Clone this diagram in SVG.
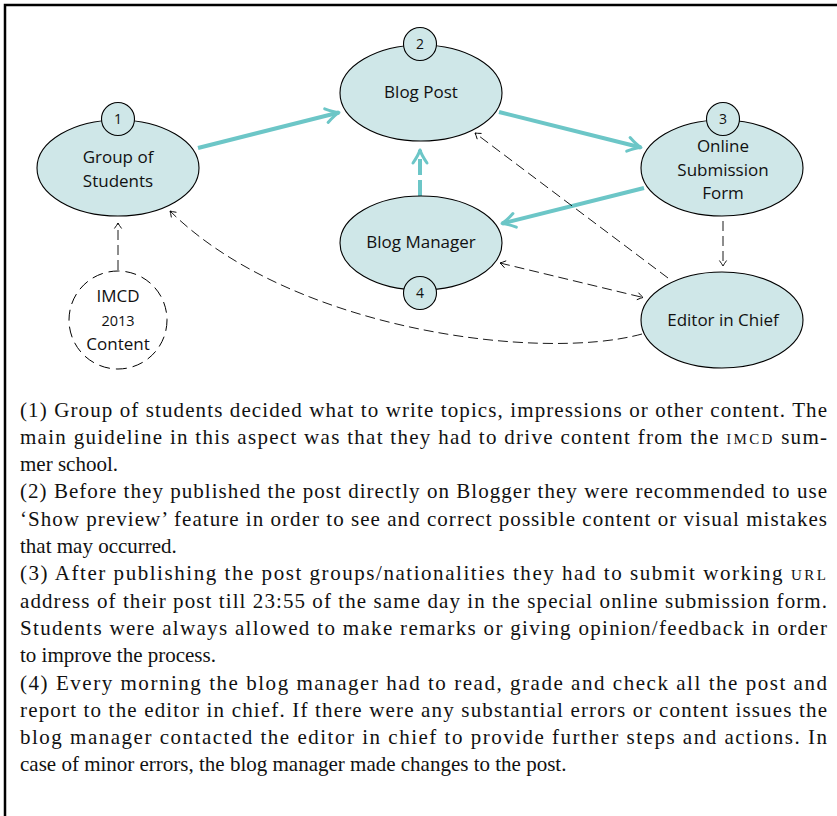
<svg xmlns="http://www.w3.org/2000/svg" width="837" height="816" viewBox="0 0 837 816">
<defs>
<style>
.node{fill:#cfe7e8;stroke:#000;stroke-width:1.1}
.badge{fill:#cfe7e8;stroke:#000;stroke-width:1.1}
.lbl{font-family:"Open Sans","Noto Sans",sans-serif;font-size:17px;fill:#111;text-anchor:middle}
.num{font-family:"Open Sans","Noto Sans",sans-serif;font-size:14px;fill:#111;text-anchor:middle}
.teal{fill:none;stroke:#6cc6c7;stroke-width:4}
.thin{fill:none;stroke:#000;stroke-width:0.9;stroke-dasharray:10 5}
.body{font-family:"Liberation Serif","Times New Roman",serif;font-size:21px;fill:#111}
.sc{font-size:15px;letter-spacing:1px}
</style>
<marker id="ah" viewBox="-7 -5 9 10" refX="0" refY="0" markerWidth="9" markerHeight="10" markerUnits="userSpaceOnUse" orient="auto-start-reverse">
<path d="M-5.5,-3.6 Q-1.8,-0.9 0,0 Q-1.8,0.9 -5.5,3.6" fill="none" stroke="#000" stroke-width="0.9"/>
</marker>
<marker id="th" viewBox="-16 -10 18 20" refX="0" refY="0" markerWidth="18" markerHeight="20" markerUnits="userSpaceOnUse" orient="auto">
<path d="M-13,-7 Q-5,-1.5 0,0 Q-5,1.5 -13,7" fill="none" stroke="#6cc6c7" stroke-width="3" stroke-linejoin="round" stroke-linecap="round"/>
</marker>
</defs>
<rect width="837" height="816" fill="#fff"/>
<path d="M5,816 V5 H837" fill="none" stroke="#000" stroke-width="2.5"/>

<g id="connectors">
<line class="teal" x1="198" y1="148" x2="339" y2="112.5" marker-end="url(#th)"/>
<line class="teal" x1="499" y1="112" x2="641" y2="147.5" marker-end="url(#th)"/>
<line class="teal" x1="644" y1="188" x2="502" y2="223.5" marker-end="url(#th)"/>
<line class="teal" x1="420" y1="196" x2="420" y2="150" stroke-dasharray="16 5" marker-end="url(#th)"/>
<line class="thin" x1="118" y1="270" x2="118" y2="223" stroke-dasharray="20 4" marker-end="url(#ah)"/>
<line class="thin" x1="668" y1="278" x2="475" y2="133" marker-end="url(#ah)"/>
<line class="thin" x1="723" y1="221" x2="723" y2="266" stroke-dasharray="20 4" marker-end="url(#ah)"/>
<line class="thin" x1="500" y1="263" x2="643" y2="297.5" marker-start="url(#ah)" marker-end="url(#ah)"/>
<path class="thin" d="M642,334 C540,362 290,330 170,211" marker-end="url(#ah)"/>
</g>

<g id="n1">
<ellipse class="node" cx="118" cy="168" rx="81" ry="48"/>
<circle class="badge" cx="118" cy="119" r="16.5"/>
<text class="num" x="118" y="124">1</text>
<text class="lbl" x="118" y="163">Group of</text>
<text class="lbl" x="118" y="187">Students</text>
</g>

<g id="n2">
<ellipse class="node" cx="421" cy="93" rx="81" ry="48"/>
<circle class="badge" cx="420" cy="44" r="16.5"/>
<text class="num" x="420" y="49">2</text>
<text class="lbl" x="421" y="98">Blog Post</text>
</g>

<g id="n3">
<ellipse class="node" cx="722" cy="168" rx="81" ry="48"/>
<circle class="badge" cx="723" cy="119" r="16.5"/>
<text class="num" x="723" y="124">3</text>
<text class="lbl" x="723" y="152">Online</text>
<text class="lbl" x="723" y="176">Submission</text>
<text class="lbl" x="723" y="199">Form</text>
</g>

<g id="n4">
<ellipse class="node" cx="421" cy="243" rx="81" ry="47"/>
<circle class="badge" cx="420" cy="293" r="16.5"/>
<text class="num" x="420" y="298">4</text>
<text class="lbl" x="421" y="248">Blog Manager</text>
</g>

<g id="n5">
<ellipse class="node" cx="722" cy="320" rx="81" ry="48"/>
<text class="lbl" x="723" y="326">Editor in Chief</text>
</g>

<g id="n6">
<circle cx="118" cy="320" r="49" fill="#fff" stroke="#000" stroke-width="1" stroke-dasharray="11 6"/>
<text class="lbl" x="118" y="302">IMCD</text>
<text class="lbl" x="118" y="326" style="font-size:14.5px">2013</text>
<text class="lbl" x="118" y="350">Content</text>
</g>

<g id="notes" class="body">
<text x="20" y="416.5" textLength="807" lengthAdjust="spacing">(1) Group of students decided what to write topics, impressions or other content. The</text>
<text x="20" y="443.8" textLength="807" lengthAdjust="spacing">main guideline in this aspect was that they had to drive content from the <tspan class="sc">IMCD</tspan> sum-</text>
<text x="20" y="471.1">mer school.</text>
<text x="20" y="498.4" textLength="807" lengthAdjust="spacing">(2) Before they published the post directly on Blogger they were recommended to use</text>
<text x="20" y="525.7" textLength="807" lengthAdjust="spacing">‘Show preview’ feature in order to see and correct possible content or visual mistakes</text>
<text x="20" y="553">that may occurred.</text>
<text x="20" y="580.3" textLength="807" lengthAdjust="spacing">(3) After publishing the post groups/nationalities they had to submit working <tspan class="sc">URL</tspan></text>
<text x="20" y="607.6" textLength="807" lengthAdjust="spacing">address of their post till 23:55 of the same day in the special online submission form.</text>
<text x="20" y="634.9" textLength="807" lengthAdjust="spacing">Students were always allowed to make remarks or giving opinion/feedback in order</text>
<text x="20" y="662.2">to improve the process.</text>
<text x="20" y="689.5" textLength="807" lengthAdjust="spacing">(4) Every morning the blog manager had to read, grade and check all the post and</text>
<text x="20" y="716.8" textLength="807" lengthAdjust="spacing">report to the editor in chief. If there were any substantial errors or content issues the</text>
<text x="20" y="744.1" textLength="807" lengthAdjust="spacing">blog manager contacted the editor in chief to provide further steps and actions. In</text>
<text x="20" y="771.4">case of minor errors, the blog manager made changes to the post.</text>
</g>
</svg>
